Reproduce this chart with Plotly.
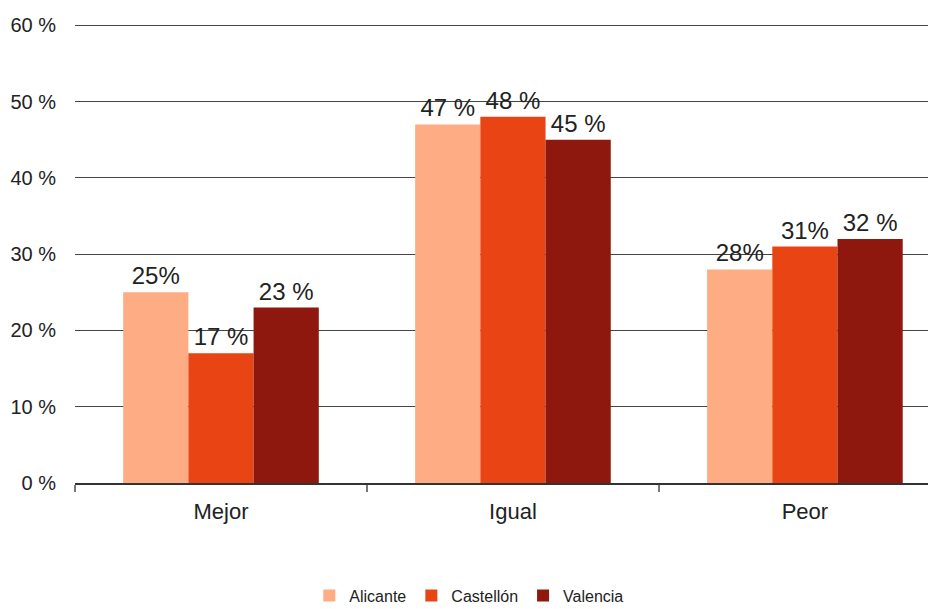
import plotly.graph_objects as go

categories = ["Mejor", "Igual", "Peor"]
series_names = ["Alicante", "Castellón", "Valencia"]
alicante = [25, 47, 28]
castellon = [17, 48, 31]
valencia = [23, 45, 32]
alicante_labels = ["25%", "47 %", "28%"]
castellon_labels = ["17 %", "48 %", "31%"]
valencia_labels = ["23 %", "45 %", "32 %"]
y_tick_values = [0, 10, 20, 30, 40, 50, 60]
y_tick_labels = ["0 %", "10 %", "20 %", "30 %", "40 %", "50 %", "60 %"]
colors = ["#FDAC84", "#E84414", "#8E180D"]

fig = go.Figure()
for name, vals, labels, col in zip(series_names, [alicante, castellon, valencia],
                                   [alicante_labels, castellon_labels, valencia_labels], colors):
    fig.add_trace(go.Bar(
        name=name, x=categories, y=vals, text=labels,
        textposition="outside", cliponaxis=False,
        textfont=dict(size=24, color="#222222", family="Liberation Sans, Arial, sans-serif"),
        marker=dict(color=col, line=dict(width=0)),
    ))

fig.update_layout(
    width=928, height=601,
    margin=dict(l=67, r=0, t=15, b=126, pad=0, autoexpand=False),
    paper_bgcolor="white", plot_bgcolor="white",
    barmode="group", bargap=0.33, bargroupgap=0,
    font=dict(family="Liberation Sans, Arial, sans-serif", color="#222222"),
    showlegend=True,
    legend=dict(orientation="h", x=0.458, xanchor="center", y=-0.245, yanchor="middle",
                font=dict(size=16, color="#222222"), itemwidth=30, traceorder="normal",
                tracegroupgap=0),
)
fig.update_xaxes(
    range=[-0.5, 2.449], showline=True, linecolor="#333333", linewidth=1.5,
    ticks="outside", tickson="boundaries", ticklen=7, tickcolor="#777777", tickwidth=2,
    tickfont=dict(size=22, color="#222222"), showgrid=False, automargin=False,
    ticklabelstandoff=8,
)
fig.update_yaxes(
    range=[0, 60.3], tickvals=y_tick_values, ticktext=y_tick_labels,
    showgrid=True, gridcolor="#444444", gridwidth=1.2, zeroline=False,
    showline=False, ticks="", ticklabelstandoff=18, automargin=False,
    tickfont=dict(size=20, color="#222222"),
)
fig.write_html("out.html")
